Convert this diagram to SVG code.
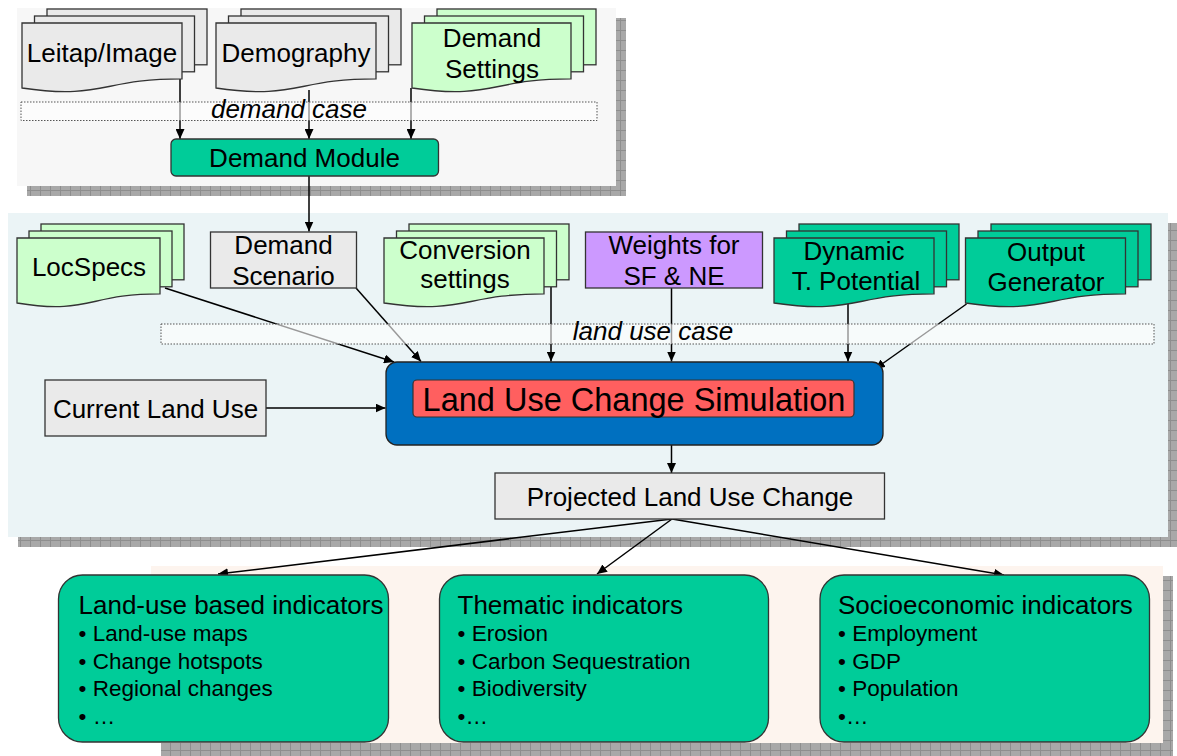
<svg xmlns="http://www.w3.org/2000/svg" width="1177" height="756" viewBox="0 0 1177 756">
<defs>
<pattern id="grid" width="10" height="10" patternUnits="userSpaceOnUse">
<rect width="10" height="10" fill="#a8a8a8"/>
<path d="M0,0.5H10M0.5,0V10" stroke="#8e8e8e" stroke-width="1"/>
</pattern>
<marker id="ah" markerUnits="userSpaceOnUse" markerWidth="11" markerHeight="9" refX="10" refY="4.5" orient="auto">
<path d="M0,0 L10,4.5 L0,9 Z" fill="#000"/>
</marker>
<style>
text{font-family:"Liberation Sans",Arial,sans-serif;fill:#000}
.t{font-size:26px;text-anchor:middle}
.it{font-size:26px;font-style:italic;text-anchor:middle}
.b{font-size:22.5px}
.ti{font-size:26px}
.sh{fill:url(#grid)}
.ln{stroke:#000;stroke-width:1.5;fill:none;marker-end:url(#ah)}
.gr{fill:#eaeaea;stroke:#333;stroke-width:1.3}
.gn{fill:#ccffcc;stroke:#333;stroke-width:1.3}
.tl{fill:#00cc99;stroke:#333;stroke-width:1.3}
.case{fill:#fff;fill-opacity:0.6;stroke:#555;stroke-width:1;stroke-dasharray:1.5,1.5}
</style>
</defs>

<g id="panels">
<rect class="sh" x="27" y="18" width="599" height="178"/>
<rect x="17" y="8" width="599" height="178" fill="#f7f7f7"/>
<rect class="sh" x="18" y="223" width="1160" height="324"/>
<rect x="8" y="213" width="1160" height="324" fill="#ebf4f6"/>
<rect class="sh" x="161" y="576" width="1012" height="180"/>
<rect x="151" y="566" width="1012" height="177" fill="#fdf4ee"/>
</g>

<g id="connectors">
<line class="ln" x1="180" y1="79" x2="180" y2="139"/>
<line class="ln" x1="309" y1="90" x2="309" y2="139"/>
<line class="ln" x1="411" y1="88" x2="411" y2="139"/>
<line class="ln" x1="309" y1="176" x2="309" y2="231.5"/>
<line class="ln" x1="165" y1="288" x2="394" y2="362"/>
<line class="ln" x1="356" y1="288" x2="421" y2="361.5"/>
<line class="ln" x1="551" y1="287" x2="551" y2="361.5"/>
<line class="ln" x1="671.5" y1="288" x2="671.5" y2="361.5"/>
<line class="ln" x1="848" y1="302" x2="848" y2="361.5"/>
<line class="ln" x1="966.5" y1="304" x2="875" y2="369"/>
<line class="ln" x1="266" y1="408" x2="385.5" y2="408"/>
<line class="ln" x1="671.5" y1="445" x2="671.5" y2="473"/>
<line class="ln" x1="672" y1="519" x2="218" y2="574"/>
<line class="ln" x1="672" y1="519" x2="597" y2="574"/>
<line class="ln" x1="672" y1="519" x2="1004" y2="575"/>
</g>

<g id="demand-case">
<rect class="case" x="21" y="102" width="576" height="18.5"/>
<text class="it" x="289" y="118">demand case</text>
</g>
<g id="land-use-case">
<rect class="case" x="161" y="324" width="993" height="20"/>
<text class="it" x="653" y="340">land use case</text>
</g>

<g id="leitap">
<rect class="gr" x="47" y="9" width="160" height="55.8"/>
<rect class="gr" x="34.5" y="16" width="160" height="55.8"/>
<path class="gr" d="M22,23 H182 V78.8 C102,78.8 102,100 22,88 Z"/>
<text class="t" x="102" y="62">Leitap/Image</text>
</g>
<g id="demography">
<rect class="gr" x="241" y="9" width="160" height="55.8"/>
<rect class="gr" x="228.5" y="16" width="160" height="55.8"/>
<path class="gr" d="M216,23 H376 V78.8 C296,78.8 296,100 216,88 Z"/>
<text class="t" x="296" y="62">Demography</text>
</g>
<g id="demand-settings">
<rect class="gn" x="437" y="9" width="159" height="55.8"/>
<rect class="gn" x="424.5" y="16" width="159" height="55.8"/>
<path class="gn" d="M412,23 H571 V78.8 C491.5,78.8 491.5,100 412,88 Z"/>
<text class="t" x="492" y="47">Demand</text>
<text class="t" x="492" y="78">Settings</text>
</g>
<g id="demand-module">
<rect x="171" y="139" width="267.5" height="37" rx="5" fill="#00cc99" stroke="#333" stroke-width="1.3"/>
<text class="t" x="304.5" y="167">Demand Module</text>
</g>

<g id="locspecs">
<rect class="gn" x="41" y="224" width="143" height="55.8"/>
<rect class="gn" x="29" y="231" width="143" height="55.8"/>
<path class="gn" d="M17,238 H160 V293.8 C88.5,293.8 88.5,315 17,303 Z"/>
<text class="t" x="89" y="276">LocSpecs</text>
</g>
<g id="demand-scenario">
<rect class="gr" x="210.5" y="232" width="146" height="56"/>
<text class="t" x="283.5" y="254">Demand</text>
<text class="t" x="283.5" y="285">Scenario</text>
</g>
<g id="conversion-settings">
<rect class="gn" x="409" y="224" width="160" height="55.8"/>
<rect class="gn" x="396.5" y="231" width="160" height="55.8"/>
<path class="gn" d="M384,238 H544 V293.8 C464,293.8 464,315 384,303 Z"/>
<text class="t" x="465" y="259">Conversion</text>
<text class="t" x="465" y="288">settings</text>
</g>
<g id="weights">
<rect x="585.5" y="232" width="177" height="56" fill="#cc99ff" stroke="#333" stroke-width="1.3"/>
<text class="t" x="674" y="254">Weights for</text>
<text class="t" x="674" y="285">SF &amp; NE</text>
</g>
<g id="dynamic-potential">
<rect class="tl" x="799" y="224" width="160" height="55.8"/>
<rect class="tl" x="786.5" y="231" width="160" height="55.8"/>
<path class="tl" d="M774,238 H934 V293.8 C854,293.8 854,315 774,303 Z"/>
<text class="t" x="854" y="260">Dynamic</text>
<text class="t" x="856" y="290">T. Potential</text>
</g>
<g id="output-generator">
<rect class="tl" x="991" y="224" width="160" height="55.8"/>
<rect class="tl" x="978" y="231" width="160" height="55.8"/>
<path class="tl" d="M965.5,238 H1125.5 V293.8 C1045.5,293.8 1045.5,315 965.5,303 Z"/>
<text class="t" x="1046" y="261">Output</text>
<text class="t" x="1046" y="291">Generator</text>
</g>

<g id="current-land-use">
<rect class="gr" x="45" y="380" width="221" height="56"/>
<text class="t" x="155.5" y="418">Current Land Use</text>
</g>
<g id="simulation">
<rect x="386" y="362" width="497" height="83" rx="11" fill="#0070c0" stroke="#222" stroke-width="1.3"/>
<rect x="413" y="380" width="441" height="37" rx="4" fill="#ff5f5f" stroke="#333" stroke-width="1.2"/>
<text x="634" y="411" font-size="32.5" text-anchor="middle">Land Use Change Simulation</text>
</g>
<g id="projected">
<rect class="gr" x="495" y="473" width="389.5" height="46"/>
<text class="t" x="690" y="506">Projected Land Use Change</text>
</g>

<g id="landuse-indicators">
<rect class="tl" x="58.5" y="575" width="330" height="167" rx="24"/>
<text class="ti" x="78.5" y="614">Land-use based indicators</text>
<text class="b" x="78.5" y="641">• Land-use maps</text>
<text class="b" x="78.5" y="668.5">• Change hotspots</text>
<text class="b" x="78.5" y="696">• Regional changes</text>
<text class="b" x="78.5" y="724">• …</text>
</g>
<g id="thematic-indicators">
<rect class="tl" x="439.5" y="575" width="329" height="167" rx="24"/>
<text class="ti" x="457.5" y="614">Thematic indicators</text>
<text class="b" x="457.5" y="641">• Erosion</text>
<text class="b" x="457.5" y="668.5">• Carbon Sequestration</text>
<text class="b" x="457.5" y="696">• Biodiversity</text>
<text class="b" x="457.5" y="724">•…</text>
</g>
<g id="socioeconomic-indicators">
<rect class="tl" x="820" y="575" width="329.5" height="167" rx="24"/>
<text class="ti" x="838" y="614">Socioeconomic indicators</text>
<text class="b" x="838" y="641">• Employment</text>
<text class="b" x="838" y="668.5">• GDP</text>
<text class="b" x="838" y="696">• Population</text>
<text class="b" x="838" y="724">•…</text>
</g>
</svg>
